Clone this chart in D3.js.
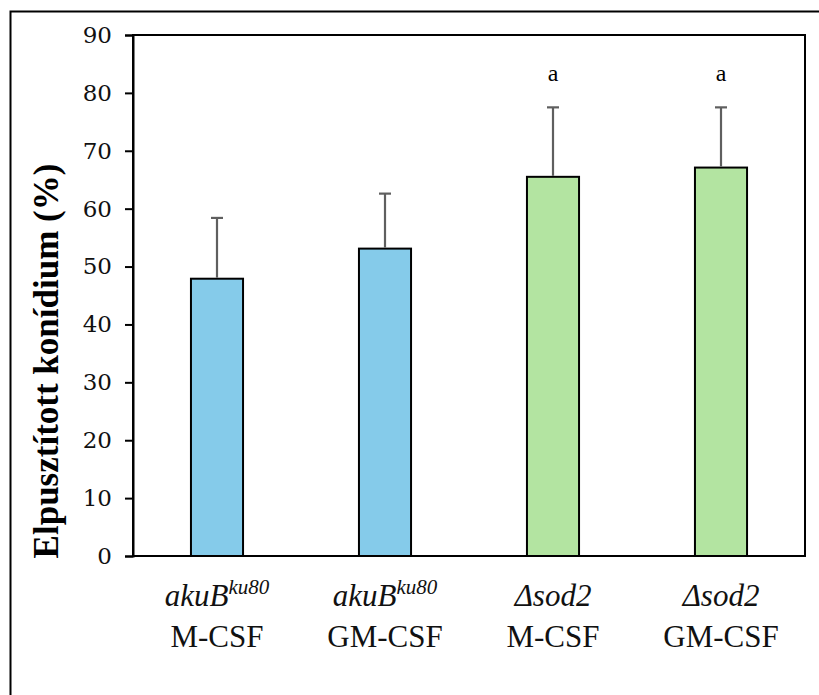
<!DOCTYPE html>
<html>
<head>
<meta charset="utf-8">
<script src="https://cdn.jsdelivr.net/npm/d3@7"></script>
<style>
  html, body { margin: 0; padding: 0; background: #fff; }
  svg { display: block; }
  .serif { font-family: "Liberation Serif", "Times New Roman", Tinos, "Nimbus Roman", serif; }
  .tickfont { font-family: "DejaVu Serif", serif; }
</style>
</head>
<body>
<svg id="chart" width="819" height="695"></svg>
<script>
// Killed conidia (%) per strain / cytokine treatment
const strains    = ["akuB", "akuB", "Δsod2", "Δsod2"];
const strainSups = ["ku80", "ku80", "", ""];
const treatments = ["M-CSF", "GM-CSF", "M-CSF", "GM-CSF"];
const means      = [47.9, 53.1, 65.5, 67.1];
const sds        = [10.5, 9.5, 12.0, 10.4];
const sigLetters = ["", "", "a", "a"];
const barColors  = ["#85CBEA", "#85CBEA", "#B3E4A1", "#B3E4A1"];
const yTicks     = [0, 10, 20, 30, 40, 50, 60, 70, 80, 90];

const svg = d3.select("#chart");
const margin = { left: 133, right: 14, top: 35, bottom: 139 };
const W = 819, H = 695;
const plotW = W - margin.left - margin.right;
const plotH = H - margin.top - margin.bottom;

// outer frame
svg.append("rect")
  .attr("x", 10.5).attr("y", 11.5)
  .attr("width", 830).attr("height", 700)
  .attr("fill", "none").attr("stroke", "#000").attr("stroke-width", 2);

const g = svg.append("g").attr("transform", `translate(${margin.left},${margin.top})`);

const idx = d3.range(means.length);
const x = d3.scaleBand().domain(idx).range([0, plotW]).paddingInner(0.69).paddingOuter(0.345);
const y = d3.scaleLinear().domain([0, 90]).range([plotH, 0]);

// plot box
g.append("rect")
  .attr("x", 0).attr("y", 0).attr("width", plotW).attr("height", plotH)
  .attr("fill", "none").attr("stroke", "#000").attr("stroke-width", 2);

// y axis
const yAxis = g.append("g")
  .call(d3.axisLeft(y).tickValues(yTicks).tickSize(8).tickPadding(13).tickFormat(d3.format("d")));
yAxis.attr("font-family", null);
yAxis.select(".domain").attr("stroke-width", 2);
yAxis.selectAll(".tick line").attr("stroke-width", 2);
yAxis.selectAll(".tick text")
  .attr("class", "tickfont")
  .attr("font-size", 23).attr("fill", "#111");

// bars
g.selectAll("rect.bar").data(idx).join("rect")
  .attr("class", "bar")
  .attr("x", i => x(i)).attr("width", x.bandwidth())
  .attr("y", i => y(means[i])).attr("height", i => y(0) - y(means[i]))
  .attr("fill", i => barColors[i]).attr("stroke", "#000").attr("stroke-width", 2);

// error bars (upper only)
const err = g.selectAll("g.err").data(idx).join("g").attr("class", "err")
  .attr("transform", i => `translate(${x(i) + x.bandwidth() / 2},0)`);
err.append("line")
  .attr("y1", i => y(means[i]) - 1).attr("y2", i => y(means[i] + sds[i]))
  .attr("stroke", "#5f5f5f").attr("stroke-width", 2.2);
err.append("line")
  .attr("x1", -6).attr("x2", 6)
  .attr("y1", i => y(means[i] + sds[i])).attr("y2", i => y(means[i] + sds[i]))
  .attr("stroke", "#5f5f5f").attr("stroke-width", 2.2);

// significance letters
g.selectAll("text.sig").data(idx.filter(i => sigLetters[i])).join("text")
  .attr("class", "sig serif")
  .attr("x", i => x(i) + x.bandwidth() / 2)
  .attr("y", y(82))
  .attr("text-anchor", "middle")
  .attr("font-size", 24)
  .text(i => sigLetters[i]);

// category labels
const labels = g.selectAll("g.lab").data(idx).join("g").attr("class", "lab")
  .attr("transform", i => `translate(${x(i) + x.bandwidth() / 2},${plotH})`);
const l1 = labels.append("text")
  .attr("class", "serif")
  .attr("y", 50).attr("text-anchor", "middle")
  .attr("font-size", 31)
  .attr("font-style", "italic").attr("fill", "#111");
l1.append("tspan").text(i => strains[i]);
l1.filter(i => strainSups[i]).append("tspan")
  .attr("font-size", 21).attr("dy", -12).text(i => strainSups[i]);
labels.append("text")
  .attr("class", "serif")
  .attr("y", 91).attr("text-anchor", "middle")
  .attr("font-size", 31).attr("fill", "#111")
  .text(i => treatments[i]);

// y-axis title
svg.append("text")
  .attr("class", "serif")
  .attr("transform", `translate(58,361) rotate(-90)`)
  .attr("text-anchor", "middle")
  .attr("font-size", 35).attr("font-weight", "bold")
  .text("Elpusztított konídium (%)");
</script>
</body>
</html>
